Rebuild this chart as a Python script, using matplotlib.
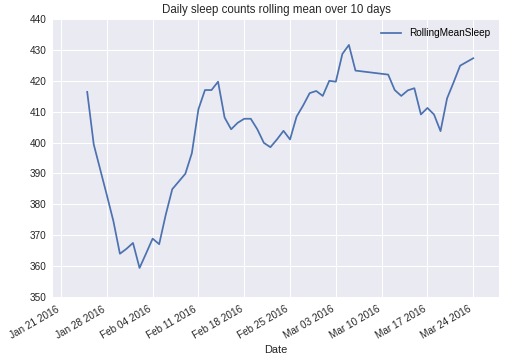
import matplotlib
matplotlib.use("Agg")
import matplotlib.pyplot as plt
import matplotlib.dates as mdates
import pandas as pd

# rolling mean of daily sleep (10-day window); Mar 07-10 missing
dates_a = pd.date_range("2016-01-25", "2016-03-06", freq="D")
vals_a = [416.4, 399.4, 391.2, 383.0, 374.6, 364.0, 365.6, 367.5, 359.4, 364.1,
          368.9, 367.1, 376.6, 384.9, 387.4, 389.9, 396.6, 410.8, 417.0, 417.0,
          419.7, 408.1, 404.3, 406.4, 407.7, 407.7, 404.3, 399.9, 398.5, 401.0,
          403.8, 401.0, 408.4, 412.0, 416.0, 416.7, 415.1, 420.0, 419.7, 428.7,
          431.6, 423.3]
dates_b = pd.date_range("2016-03-11", "2016-03-24", freq="D")
vals_b = [422.0, 417.0, 415.1, 416.9, 417.6, 409.1, 411.2, 409.1, 403.7, 414.3,
          419.5, 424.9, 426.1, 427.3]

dates = list(dates_a) + list(dates_b)
vals = vals_a + vals_b
yticks = [350, 360, 370, 380, 390, 400, 410, 420, 430, 440]

plt.rcParams["font.family"] = ["Liberation Sans", "DejaVu Sans"]
fig = plt.figure(figsize=(506 / 72, 362 / 72), dpi=72)
ax = fig.add_axes([53.3 / 506, 1 - 297 / 362, (499 - 53.3) / 506, (297 - 19) / 362])
ax.set_facecolor("#EAEAF2")
for s in ax.spines.values():
    s.set_visible(False)
ax.grid(True, color="white", lw=1.0)
ax.set_axisbelow(True)

ax.plot(dates, vals, color="#4C72B0", lw=1.75, label="RollingMeanSleep")

ax.set_ylim(350, 440)
ax.set_yticks(yticks)
ax.set_xlim(pd.Timestamp("2016-01-19 19:40"), pd.Timestamp("2016-03-27 22:30"))
ax.xaxis.set_major_locator(mdates.WeekdayLocator(byweekday=mdates.TH))
ax.xaxis.set_major_formatter(mdates.DateFormatter("%b %d %Y"))
ax.tick_params(length=0, labelsize=10, colors="#262626", pad=7)
for lbl in ax.get_xticklabels():
    lbl.set_rotation(30)
    lbl.set_ha("right")

ax.set_xlabel("Date", fontsize=11, color="#262626")
ax.set_title("Daily sleep counts rolling mean over 10 days", fontsize=11.5, color="#262626")
ax.legend(loc="upper right", frameon=False, fontsize=10)

fig.savefig("out.png", dpi=72)
